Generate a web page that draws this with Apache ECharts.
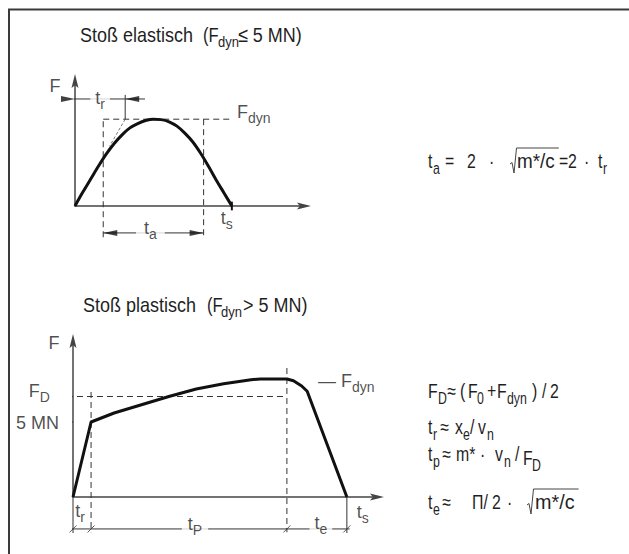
<!DOCTYPE html>
<html>
<head>
<meta charset="utf-8">
<title>Stoß elastisch / plastisch</title>
<script src="https://cdn.jsdelivr.net/npm/echarts@6.0.0/dist/echarts.min.js"></script>
<style>
html,body{margin:0;padding:0;background:#fff;}
#chart{width:629px;height:554px;}
</style>
</head>
<body>
<div id="chart"></div>
<script>
// Upper diagram: elastic impact, force over time (t_s = 10, F_dyn = 10)
const elasticTime  = [0, 0.5, 1, 1.5, 2, 2.5, 3, 3.5, 4, 4.5, 5, 5.5, 6, 6.5, 7, 7.5, 8, 8.5, 9, 9.5, 10];
const elasticForce = [0, 1.6, 3.1, 4.6, 6.0, 7.2, 8.2, 9.0, 9.5, 9.85, 10, 9.95, 9.7, 9.2, 8.4, 7.4, 6.1, 4.6, 3.0, 1.5, 0];
const elasticFdyn = 10;
const elasticTs = 10;
const elasticTr = 3.2;
const elasticTa = [1.8, 8.2];

// Lower diagram: plastic impact, force in MN over time (t_s = 10)
const plasticTime  = [0, 0.66, 1.5, 2.5, 3.5, 4.5, 5.5, 6.5, 6.85, 7.81, 8.05, 8.35, 8.55, 10];
const plasticForce = [0, 5.0, 5.6, 6.15, 6.7, 7.2, 7.55, 7.82, 7.87, 7.87, 7.75, 7.4, 7.05, 0];
const plasticF5 = 5;      // 5 MN
const plasticFD = 6.7;    // mean force F_D
const plasticTr = 0.66;
const plasticTpEnd = 7.81;
const plasticTs = 10;

// Titles and formulas as runs: [style, text, x, {dy, sx}]; s / Ts = subscript, rad = root sign
const titleElastic = [['T','Stoß elastisch',80],['T','(F',203,{sx:0.92}],['Ts','dyn',218],['T','≤ 5 MN)',238]];
const titlePlastic = [['T','Stoß plastisch',83],['T','(F',207,{sx:0.92}],['Ts','dyn',221],['T','> 5 MN)',243]];
const formulaTa = [['n','t',428],['s','a',433],['n','=',445],['n','2',467],['n','·',489],['rad','',510],
                   ['n','m*/c',517,{sx:1.05}],['n','=',559],['n','2',568],['n','·',584],['n','t',598],['s','r',603]];
const formulaFD = [['n','F',428],['s','D',438],['n','≈',447],['n','(',460],['n','F',468],['s','0',477],
                   ['n','+',487],['n','F',497],['s','dyn',507],['n',')',532],['n','/',542],['n','2',550]];
const formulaTr = [['n','t',428],['s','r',433],['n','≈',440],['n','x',455],['s','e',463],['n','/',470],
                   ['n','v',478],['s','n',487]];
const formulaTp = [['n','t',428],['s','p',433],['n','≈',442],['n','m*',456],['n','·',480],['n','v',495],
                   ['s','n',504],['n','/',515],['n','F',523,{dy:4}],['s','D',532,{dy:4}]];
const formulaTe = [['n','t',428],['s','e',433],['n','≈',442],['n','Π/',472],['n','2',492],['n','·',507],
                   ['rad','',527],['n','m*/c',535,{sx:1.1}]];

const FF = "'Liberation Sans',Arial,Helvetica,sans-serif";
const TXT = '#1f1f1f';
const INK = '#333';

const runStyle = {
  T:  {size: 18, dy: 0, sx: 1,    sy: 1.15},
  Ts: {size: 13, dy: 7, sx: 1,    sy: 1.15},
  n:  {size: 18, dy: 0, sx: 0.88, sy: 1.12},
  s:  {size: 14, dy: 7, sx: 0.88, sy: 1.12}
};

const ctx = document.createElement('canvas').getContext('2d');
function measure(size, tx) {
  ctx.font = size + 'px ' + FF;
  return ctx.measureText(tx).width;
}

// one line of text runs centred on cy, with root signs drawn as strokes
function textLine(cy, runs) {
  const els = [];
  runs.forEach((r, i) => {
    const [st, tx, x, o] = r;
    const opt = o || {};
    if (st === 'rad') {
      const nx = runs[i + 1];
      const ns = runStyle[nx[0]];
      const sx = (nx[3] && nx[3].sx) || ns.sx;
      const end = nx[2] + measure(ns.size, nx[1]) * sx + 4;
      els.push({
        type: 'polyline', silent: true,
        shape: {points: [[x, cy + 3], [x + 2, cy + 1.5], [x + 4, cy + 12], [x + 6.5, cy - 13], [end, cy - 13]]},
        style: {stroke: '#444', lineWidth: 1, fill: null}
      });
      return;
    }
    const rs = runStyle[st];
    els.push({
      type: 'text', silent: true, x: x, y: cy + rs.dy + (opt.dy || 0),
      scaleX: opt.sx || rs.sx, scaleY: rs.sy,
      style: {text: tx, fontSize: rs.size, fontFamily: FF, fill: TXT, align: 'left', verticalAlign: 'middle'}
    });
  });
  return els;
}

// rich styles for labels placed in the diagrams
const rich = {
  n: {fontFamily: FF, fontSize: 18, color: TXT, lineHeight: 26, verticalAlign: 'middle'},
  s: {fontFamily: FF, fontSize: 14, color: TXT, lineHeight: 26, verticalAlign: 'bottom'}
};
const nb = t => t.replace(/ /g, '\u00a0');
const richString = parts => parts.map(([st, tx]) => '{' + st + '|' + nb(tx) + '}').join('');

function seg(g, pts, style, z) {
  return {type: 'line', xAxisIndex: g, yAxisIndex: g, data: pts, symbol: 'none', clip: false,
          silent: true, animation: false, z: z || 3, lineStyle: style};
}
const dashed = {color: INK, width: 1, type: [6, 4]};
const thin = {color: INK, width: 1};

const ARROW_R = 'path://M0,0 L14,3 L0,6 Z';
const ARROW_L = 'path://M14,0 L0,3 L14,6 Z';
function arrowHeads(g, items) {
  return {
    type: 'scatter', xAxisIndex: g, yAxisIndex: g, silent: true, clip: false, animation: false, z: 6,
    itemStyle: {color: '#111'},
    data: items.map(([x, y, d]) => ({
      value: [x, y], symbol: d > 0 ? ARROW_R : ARROW_L, symbolSize: [14, 6],
      symbolOffset: [d > 0 ? -7 : 7, 0]
    }))
  };
}
function labels(g, items) {
  return {
    type: 'scatter', xAxisIndex: g, yAxisIndex: g, silent: true, clip: false, animation: false, z: 8,
    symbolSize: 1, itemStyle: {color: 'transparent'},
    data: items.map(it => ({
      value: it.at,
      label: {
        show: true, position: 'inside', align: it.align || 'center', verticalAlign: 'middle',
        offset: it.offset || [0, 0], rich: rich,
        formatter: () => richString(it.text),
        backgroundColor: it.bg ? '#fff' : 'transparent', padding: it.bg ? [0, it.bg] : 0
      }
    }))
  };
}
function axisCfg(g, max) {
  return {
    type: 'value', gridIndex: g, min: 0, max: max,
    axisLine: {show: true, onZero: false, symbol: ['none', 'path://M5,0 L10,20 L5,16 L0,20 Z'],
               symbolSize: [7, 15], lineStyle: {color: '#444', width: 1.5}},
    axisTick: {show: false}, axisLabel: {show: false}, splitLine: {show: false}
  };
}

const zip = (a, b) => a.map((v, i) => [v, b[i]]);

// upper diagram layout values (data units)
const elDimTr = 12.33, elDimTa = -3.1, elDashLow = -3.6, elFdynEnd = 10.08;
// lower diagram layout values
const plDim = -2.13, plExtLow = -2.4, plDashLow = -2.35;

const series = [
  // elastic impact
  {type: 'line', xAxisIndex: 0, yAxisIndex: 0, data: zip(elasticTime, elasticForce), smooth: 0.3,
   symbol: 'none', silent: true, animation: false, z: 5, lineStyle: {color: '#111', width: 3}},
  seg(0, [[elasticTa[0], elDashLow], [elasticTa[0], elasticFdyn]], dashed),
  seg(0, [[elasticTa[0], elasticFdyn], [elFdynEnd, elasticFdyn]], dashed),
  seg(0, [[elasticTa[1], elasticFdyn], [elasticTa[1], elDashLow]], dashed),
  seg(0, [[elasticTr, elasticFdyn], [elasticTr - 1, elasticFdyn * (elasticTr - 1) / elasticTr]],
      {color: '#555', width: 0.8, type: [3, 2]}),
  seg(0, [[elasticTr, elasticFdyn], [elasticTr, 12.8]], thin),
  seg(0, [[-1.6, elDimTr], [4.46, elDimTr]], thin),
  seg(0, [[elasticTa[0], elDimTa], [elasticTa[1], elDimTa]], thin),
  seg(0, [[elasticTs, 0.5], [elasticTs, -0.5]], {color: '#111', width: 2}),
  arrowHeads(0, [[0, elDimTr, 1], [elasticTr, elDimTr, -1], [elasticTa[0], elDimTa, -1], [elasticTa[1], elDimTa, 1]]),
  labels(0, [
    {at: [-1.28, 13.8], text: [['n', 'F']]},
    {at: [elasticTr / 2, elDimTr], text: [['n', 't'], ['s', 'r']], offset: [0, -1], bg: 5},
    {at: [elFdynEnd, elasticFdyn], text: [['n', 'F'], ['s', 'dyn']], align: 'left', offset: [4, -7]},
    {at: [elasticTs, 0], text: [['n', 't'], ['s', 's']], align: 'right', offset: [1, 12]},
    {at: [(elasticTa[0] + elasticTa[1]) / 2, elDimTa], text: [['n', 't'], ['s', 'a']], offset: [-3, -5], bg: 8}
  ]),

  // plastic impact
  {type: 'line', xAxisIndex: 1, yAxisIndex: 1, data: zip(plasticTime, plasticForce),
   symbol: 'none', silent: true, animation: false, z: 5, lineStyle: {color: '#111', width: 3, join: 'round'}},
  seg(1, [[-0.22, plasticFD], [plasticTpEnd, plasticFD]], dashed),
  seg(1, [[plasticTr, 7.0], [plasticTr, plDashLow]], dashed),
  seg(1, [[plasticTpEnd, 8.6], [plasticTpEnd, plDashLow]], dashed),
  seg(1, [[-0.4, plasticF5], [0, plasticF5]], thin),
  seg(1, [[0, 0], [0, plExtLow]], thin),
  seg(1, [[plasticTs, 0], [plasticTs, plExtLow]], thin),
  seg(1, [[-0.1, plDim], [plasticTs + 0.1, plDim]], thin),
  {type: 'scatter', xAxisIndex: 1, yAxisIndex: 1, silent: true, clip: false, animation: false, z: 6,
   symbol: 'path://M0,7 L7,0', symbolSize: 7,
   itemStyle: {color: 'transparent', borderColor: INK, borderWidth: 1},
   data: [[0, plDim], [plasticTr, plDim], [plasticTpEnd, plDim], [plasticTs, plDim]]},
  labels(1, [
    {at: [-0.69, 10.27], text: [['n', 'F']]},
    {at: [-0.22, plasticFD], text: [['n', 'F'], ['s', 'D']], align: 'right', offset: [-17, -5.5]},
    {at: [-0.4, plasticF5], text: [['n', '5 MN']], align: 'right', offset: [-3, 1]},
    {at: [plasticTpEnd, 7.87], text: [['n', '— F'], ['s', 'dyn']], align: 'left', offset: [31, 2]},
    {at: [plasticTr / 2, plDim], text: [['n', 't'], ['s', 'r']], offset: [-2, -18]},
    {at: [(plasticTr + plasticTpEnd) / 2, plDim], text: [['n', 't'], ['s', 'P']], offset: [6, -5], bg: 6},
    {at: [(plasticTpEnd + plasticTs) / 2, plDim], text: [['n', 't'], ['s', 'e']], offset: [4, -6], bg: 5},
    {at: [plasticTs, 0], text: [['n', 't'], ['s', 's']], align: 'left', offset: [10, 15]}
  ])
];

const graphic = [].concat(
  [{type: 'line', silent: true, shape: {x1: 8, y1: 9.5, x2: 629, y2: 9.5}, style: {stroke: '#3a3a3a', lineWidth: 2}},
   {type: 'line', silent: true, shape: {x1: 9, y1: 9, x2: 9, y2: 554}, style: {stroke: '#3a3a3a', lineWidth: 2}}],
  textLine(35, titleElastic),
  textLine(305, titlePlastic),
  textLine(161, formulaTa),
  textLine(391, formulaFD),
  textLine(427, formulaTr),
  textLine(454, formulaTp),
  textLine(502, formulaTe)
);

const chart = echarts.init(document.getElementById('chart'), null, {renderer: 'svg'});
chart.setOption({
  animation: false,
  backgroundColor: '#fff',
  grid: [
    {left: 75, top: 81, width: 229, height: 125},
    {left: 73, top: 341, width: 304, height: 156}
  ],
  xAxis: [axisCfg(0, 14.6), axisCfg(1, 11.1)],
  yAxis: [axisCfg(0, 14.4), axisCfg(1, 10.4)],
  series: series,
  graphic: graphic
});
</script>
</body>
</html>
